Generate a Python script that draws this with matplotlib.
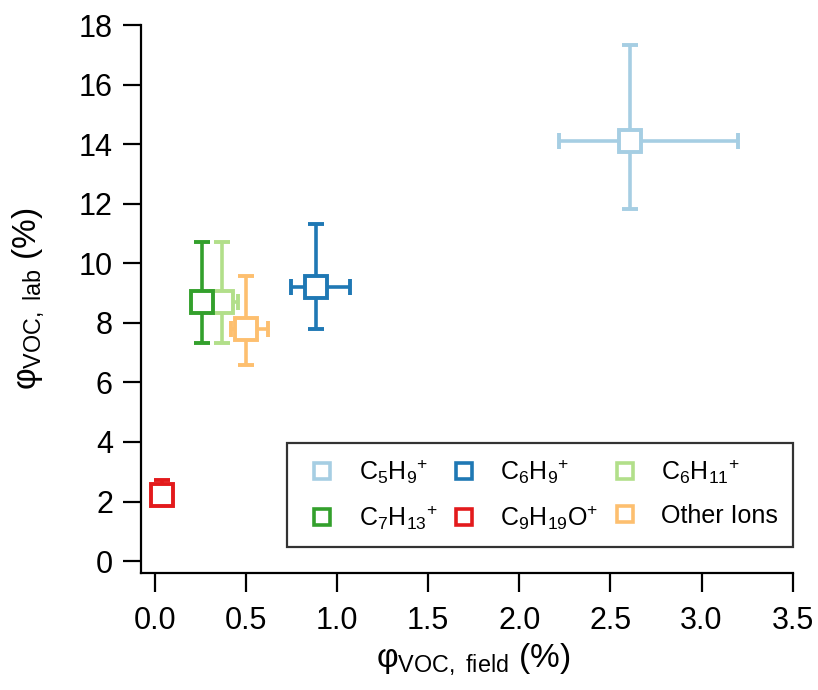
import matplotlib.pyplot as plt
from matplotlib.lines import Line2D

plt.rcParams['font.family'] = ['Liberation Sans', 'DejaVu Sans']
plt.rcParams['mathtext.fontset'] = 'custom'
plt.rcParams['mathtext.rm'] = 'Liberation Sans'
plt.rcParams['mathtext.it'] = 'Liberation Sans'

# ion species, field vs lab fractions (%)
ions = [r'$\mathrm{C_5H_9}^{+}$', r'$\mathrm{C_6H_9}^{+}$', r'$\mathrm{C_6H_{11}}^{+}$',
        r'$\mathrm{C_7H_{13}}^{+}$', r'$\mathrm{C_9H_{19}O}^{+}$', 'Other Ions']
colors = ['#a6cee3', '#1f78b4', '#b2df8a', '#33a02c', '#e31a1c', '#fdbf6f']
field = [2.61, 0.887, 0.37, 0.26, 0.04, 0.50]
field_lo = [2.22, 0.75, 0.30, 0.23, 0.02, 0.42]
field_hi = [3.20, 1.074, 0.455, 0.29, 0.06, 0.62]
lab = [14.12, 9.20, 8.70, 8.70, 2.22, 7.80]
lab_lo = [11.83, 7.78, 7.31, 7.31, 1.95, 6.57]
lab_hi = [17.32, 11.32, 10.72, 10.72, 2.72, 9.57]

fig = plt.figure(figsize=(8.18, 6.9), dpi=100)
ax = fig.add_axes([0.172, 0.1696, 0.797, 0.794])

for i in range(len(ions)):
	xerr = [[field[i] - field_lo[i]], [field_hi[i] - field[i]]]
	yerr = [[lab[i] - lab_lo[i]], [lab_hi[i] - lab[i]]]
	ax.errorbar(field[i], lab[i], xerr=xerr, yerr=yerr, fmt='s', color=colors[i],
		markerfacecolor='white', markeredgecolor=colors[i], markersize=16,
		markeredgewidth=2.8, elinewidth=2.6, capsize=5.5, capthick=2.6, zorder=3)

ax.set_xlim(-0.077, 3.5)
ax.set_ylim(-0.4, 18)
ax.set_xticks([0.0, 0.5, 1.0, 1.5, 2.0, 2.5, 3.0, 3.5])
ax.set_xticklabels(['0.0', '0.5', '1.0', '1.5', '2.0', '2.5', '3.0', '3.5'])
ax.set_yticks(range(0, 19, 2))
ax.spines['top'].set_visible(False)
ax.spines['right'].set_visible(False)
for s in ['left', 'bottom']:
	ax.spines[s].set_linewidth(1.6)
ax.tick_params(axis='x', direction='out', length=14, width=1.6, labelsize=22, pad=10)
ax.tick_params(axis='y', direction='out', length=13, width=1.6, labelsize=22, pad=7)

ax.set_xlabel(r'$\mathrm{φ_{VOC,\ field}}$ (%)', fontsize=24)
ax.set_ylabel(r'$\mathrm{φ_{VOC,\ lab}}$ (%)', fontsize=24)
ax.xaxis.set_label_coords(0.51, -0.125)
ax.yaxis.set_label_coords(-0.145, 0.5)

# legend fills row by row in the reference
order = [0, 3, 1, 4, 2, 5]
handles = [Line2D([], [], linestyle='none', marker='s', markersize=12, markerfacecolor='white',
	markeredgecolor=colors[i], markeredgewidth=2.6) for i in order]
labels = [ions[i] for i in order]
leg = ax.legend(handles, labels, ncol=3, loc='lower right', bbox_to_anchor=(1.0, 0.047),
	fontsize=18, frameon=True, fancybox=False, edgecolor='black', handlelength=1.6,
	handletextpad=0.65, columnspacing=0.25, borderpad=0.6, labelspacing=0.7,
	borderaxespad=0)
leg.get_frame().set_linewidth(1.6)

plt.savefig('out.png', dpi=100)
